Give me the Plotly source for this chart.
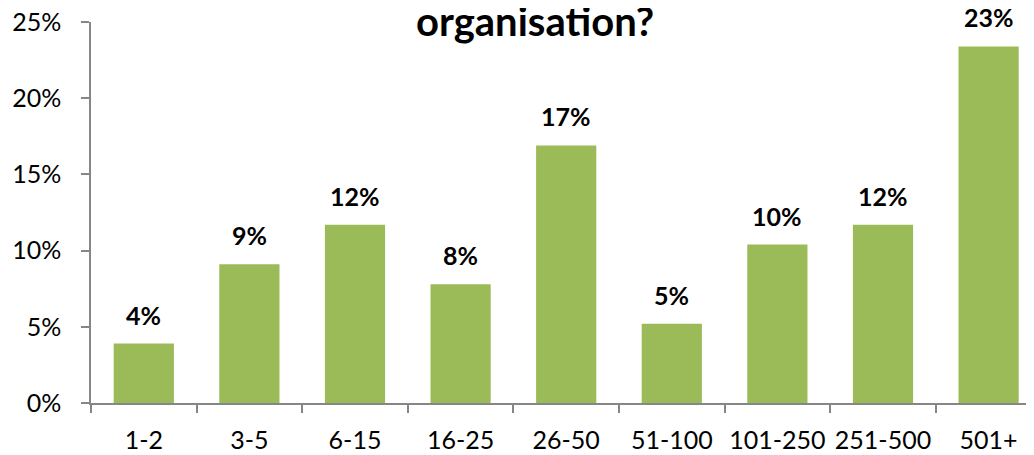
import plotly.graph_objects as go

categories = ["1-2", "3-5", "6-15", "16-25", "26-50", "51-100", "101-250", "251-500", "501+"]
values = [3.9, 9.1, 11.7, 7.8, 16.9, 5.2, 10.4, 11.7, 23.4]
labels = ["4%", "9%", "12%", "8%", "17%", "5%", "10%", "12%", "23%"]
y_ticks = [0, 5, 10, 15, 20, 25]
y_tick_text = ["0%", "5%", "10%", "15%", "20%", "25%"]
title_text = "organisation?"

FONT = "Lato"
AXIS = "#868686"

# the page has an 8px body margin, so the figure is offset by 8px
OFF = 8
W, H = 1034 - OFF, 455 - OFF
ml, mr, mt, mb = 91 - OFF, 0, 22 - OFF, 52
pw, ph = W - ml - mr, H - mt - mb

fig = go.Figure(go.Bar(
    x=categories, y=values,
    marker=dict(color="#9BBB59", line=dict(width=0)),
    width=0.57,
    hoverinfo="skip",
))

for c, v, t in zip(categories, values, labels):
    fig.add_annotation(x=c, y=v, text="<b>%s</b>" % t, showarrow=False,
                       yanchor="bottom", yshift=12,
                       font=dict(family=FONT, size=25, color="black"))

fig.add_annotation(xref="paper", yref="paper",
                   x=(535 - OFF - ml) / pw, y=(H - mb - (39 - OFF)) / ph,
                   text="<b>%s</b>" % title_text, showarrow=False,
                   xanchor="center", yanchor="bottom", yshift=-8,
                   font=dict(family=FONT, size=40, color="black"))

fig.update_layout(
    width=W, height=H,
    margin=dict(l=ml, r=mr, t=mt, b=mb, pad=0, autoexpand=False),
    paper_bgcolor="white", plot_bgcolor="white",
    showlegend=False,
    font=dict(family=FONT, size=25, color="black"),
)
fig.update_xaxes(
    range=[-0.5, 8.43], tickangle=0, automargin=False,
    showline=True, linecolor=AXIS, linewidth=1.5,
    ticks="outside", tickson="boundaries", ticklen=8, tickcolor=AXIS, tickwidth=1.5,
    tickfont=dict(family=FONT, size=25, color="black"),
    ticklabelstandoff=14, ticklabeloverflow="allow",
    showgrid=False, zeroline=False,
)
fig.update_yaxes(
    range=[0, 25], automargin=False,
    tickvals=y_ticks, ticktext=y_tick_text,
    showline=True, linecolor=AXIS, linewidth=1.5,
    ticks="outside", ticklen=8, tickcolor=AXIS, tickwidth=1.5,
    tickfont=dict(family=FONT, size=25, color="black"),
    ticklabelstandoff=15, ticklabeloverflow="allow",
    showgrid=False, zeroline=False,
)

fig.write_html("out.html")
